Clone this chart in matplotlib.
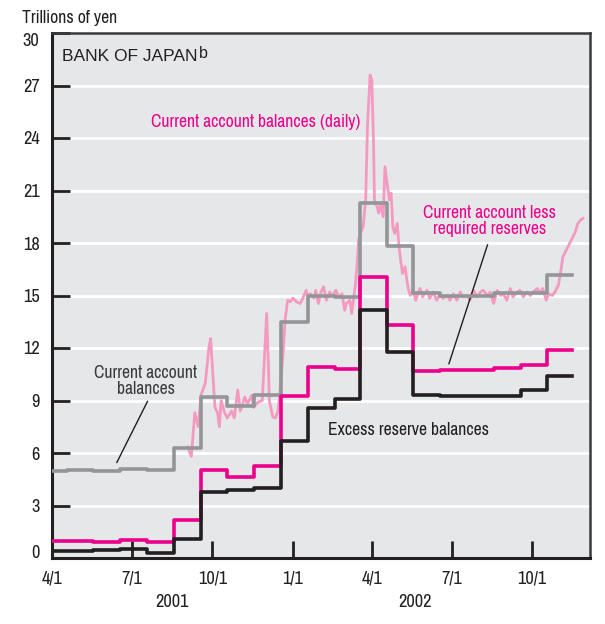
import matplotlib
matplotlib.use("Agg")
import matplotlib.pyplot as plt
from matplotlib import font_manager as fm
import pandas as pd

# Reserve maintenance period edges (monthly averages)
period_edges = ['2001-04-01', '2001-04-18', '2001-05-18', '2001-06-18', '2001-07-18',
                '2001-08-18', '2001-09-18', '2001-10-18', '2001-11-18', '2001-12-18',
                '2002-01-18', '2002-02-18', '2002-03-18', '2002-04-18', '2002-05-18',
                '2002-06-18', '2002-07-18', '2002-08-18', '2002-09-18', '2002-10-18',
                '2002-11-16']

current_account = [4.96, 5.04, 4.96, 5.1, 5.04, 6.28, 9.2, 8.7, 9.33, 13.46,
                   14.98, 14.9, 20.27, 17.84, 15.12, 14.96, 14.96, 15.12, 15.12, 16.16]
less_required = [1.0, 1.0, 0.9, 1.05, 0.93, 2.2, 5.04, 4.62, 5.25, 9.26,
                 10.9, 10.78, 16.07, 13.3, 10.67, 10.73, 10.73, 10.86, 11.05, 11.91]
excess_reserve = [0.38, 0.38, 0.46, 0.52, 0.29, 1.09, 3.8, 3.88, 4.0, 6.66,
                  8.59, 9.07, 14.2, 11.8, 9.34, 9.24, 9.24, 9.24, 9.58, 10.42]

# Daily current account balances
daily_dates = ['2001-09-03', '2001-09-07', '2001-09-11', '2001-09-15', '2001-09-18',
               '2001-09-23', '2001-09-27', '2001-09-29', '2001-10-01', '2001-10-04',
               '2001-10-07', '2001-10-09', '2001-10-11', '2001-10-15', '2001-10-18',
               '2001-10-23', '2001-10-26', '2001-10-30', '2001-11-02', '2001-11-07',
               '2001-11-10', '2001-11-15', '2001-11-17', '2001-11-22', '2001-11-27',
               '2001-11-30', '2001-12-02', '2001-12-04', '2001-12-05', '2001-12-09',
               '2001-12-12', '2001-12-15', '2001-12-17', '2001-12-21', '2001-12-23',
               '2001-12-26', '2001-12-29', '2002-01-01', '2002-01-05', '2002-01-09',
               '2002-01-11', '2002-01-16', '2002-01-18', '2002-01-21', '2002-01-25',
               '2002-01-27', '2002-01-30', '2002-02-02', '2002-02-05', '2002-02-08',
               '2002-02-12', '2002-02-15', '2002-02-19', '2002-02-22', '2002-02-26',
               '2002-03-01', '2002-03-03', '2002-03-07', '2002-03-09', '2002-03-13',
               '2002-03-15', '2002-03-17', '2002-03-19', '2002-03-22', '2002-03-25',
               '2002-03-27', '2002-03-30', '2002-04-01', '2002-04-03', '2002-04-04',
               '2002-04-07', '2002-04-09', '2002-04-11', '2002-04-14', '2002-04-16',
               '2002-04-18', '2002-04-21', '2002-04-23', '2002-04-25', '2002-04-27',
               '2002-04-30', '2002-05-02', '2002-05-04', '2002-05-06', '2002-05-09',
               '2002-05-11', '2002-05-13', '2002-05-15', '2002-05-18', '2002-05-21',
               '2002-05-26', '2002-05-29', '2002-06-03', '2002-06-06', '2002-06-10',
               '2002-06-14', '2002-06-18', '2002-06-21', '2002-06-26', '2002-06-29',
               '2002-07-03', '2002-07-07', '2002-07-11', '2002-07-14', '2002-07-19',
               '2002-07-22', '2002-07-26', '2002-07-30', '2002-08-03', '2002-08-06',
               '2002-08-11', '2002-08-14', '2002-08-18', '2002-08-22', '2002-08-26',
               '2002-08-29', '2002-09-02', '2002-09-06', '2002-09-09', '2002-09-14',
               '2002-09-17', '2002-09-21', '2002-09-25', '2002-09-29', '2002-10-02',
               '2002-10-07', '2002-10-10', '2002-10-13', '2002-10-17', '2002-10-20',
               '2002-10-24', '2002-10-27', '2002-10-31', '2002-11-03', '2002-11-05',
               '2002-11-09', '2002-11-12', '2002-11-16', '2002-11-19', '2002-11-22',
               '2002-11-25', '2002-11-28']
daily_values = [6.34, 5.8, 8.3, 7.5, 9.3,
                10.0, 12.0, 12.54, 11.0, 8.6,
                8.3, 7.5, 9.0, 8.3, 8.0,
                8.4, 8.0, 9.6, 8.4, 9.2,
                8.8, 9.3, 8.6, 8.9, 9.0,
                12.0, 13.97, 11.0, 9.0, 8.05,
                8.0, 8.4, 9.4, 11.9, 13.6,
                14.73, 14.64, 14.85, 14.64, 14.54,
                14.7, 15.3, 14.92, 15.1, 14.85,
                15.3, 14.54, 15.2, 15.5, 14.73,
                15.2, 14.97, 15.3, 14.92, 15.1,
                14.16, 14.54, 14.73, 13.97, 15.5,
                16.6, 18.2, 18.55, 18.93, 20.46,
                24.65, 27.6, 27.3, 23.7, 20.46,
                20.07, 19.7, 20.27, 19.5, 22.36,
                21.6, 20.46, 20.84, 18.93, 18.55,
                19.12, 17.8, 17.0, 16.26, 16.64,
                15.88, 15.3, 15.0, 15.3, 14.73,
                15.4, 14.92, 15.3, 14.83, 15.2,
                14.73, 15.1, 14.83, 15.02, 14.73,
                15.1, 14.73, 15.2, 14.92, 15.0,
                14.73, 15.3, 14.92, 15.2, 15.3,
                15.0, 15.2, 14.54, 15.3, 15.0,
                15.1, 14.73, 15.4, 14.92, 15.2,
                15.3, 14.92, 15.2, 15.0, 15.2,
                15.4, 15.1, 15.4, 14.73, 15.1,
                15.0, 15.2, 15.6, 16.5, 17.2,
                17.6, 17.9, 18.3, 18.6, 19.1,
                19.3, 19.41]

x_ticks = ['2001-04-01', '2001-07-01', '2001-10-01', '2002-01-01',
           '2002-04-01', '2002-07-01', '2002-10-01']
x_tick_labels = ['4/1', '7/1', '10/1', '1/1', '4/1', '7/1', '10/1']
y_ticks = [0, 3, 6, 9, 12, 15, 18, 21, 24, 27, 30]

GRAY = '#939598'
PINK = '#ec008c'
LIGHT_PINK = '#f49ac1'
DARK = '#231f20'
FS = 12.7


# pick a condensed sans font if one is installed, else fall back to Liberation Sans
def find_narrow():
    cands = []
    for f in fm.fontManager.ttflist:
        name = f.name.lower()
        fname = f.fname.lower()
        if f.style != 'normal' or f.weight not in (400, 'normal', 'regular'):
            continue
        if 'bold' in fname or 'italic' in fname or 'light' in fname or 'medium' in fname:
            continue
        if 'narrow' in name or 'narrow' in fname:
            cands.append((0, f.fname))
        elif 'condensed' in name or 'condensed' in fname or f.stretch in ('condensed', 'semi-condensed'):
            if 'extra' in fname or 'semi' in fname or 'ultra' in fname:
                continue
            cands.append((1, f.fname))
    if cands:
        cands.sort()
        return fm.FontProperties(fname=cands[0][1])
    return fm.FontProperties(family='Liberation Sans')


narrow = find_narrow()
plt.rcParams['font.family'] = ['Liberation Sans', 'DejaVu Sans']

edges = pd.to_datetime(period_edges)
daily_x = pd.to_datetime(daily_dates)

fig = plt.figure(figsize=(6.05, 6.24), dpi=100)
ax = fig.add_axes([52 / 605, 1 - 558 / 624, 538 / 605, 525 / 624])
ax.set_facecolor('#e6e7e8')

# Grid lines
for yv in y_ticks[1:-1]:
    ax.axhline(yv, color='white', lw=2, zorder=1)

# Daily balances
ax.plot(daily_x, daily_values, color=LIGHT_PINK, lw=2.0, zorder=2)

# Monthly step series
ax.step(edges, current_account + current_account[-1:], where='post', color=GRAY, lw=2.6, zorder=3)
ax.step(edges, less_required + less_required[-1:], where='post', color=PINK, lw=2.6, zorder=3)
ax.step(edges, excess_reserve + excess_reserve[-1:], where='post', color=DARK, lw=2.6, zorder=4)

ax.set_xlim(pd.Timestamp('2001-04-01'), pd.Timestamp('2002-12-06'))
ax.set_ylim(0, 30)

ax.set_xticks(pd.to_datetime(x_ticks))
ax.set_xticklabels(x_tick_labels)
ax.set_yticks(y_ticks)
ax.tick_params(axis='x', direction='in', length=12, width=2, color=DARK,
               labelcolor=DARK, pad=9, top=False)
ax.tick_params(axis='y', direction='in', length=13, width=2, color=DARK,
               labelcolor=DARK, pad=9, right=False)
for lab in ax.get_xticklabels() + ax.get_yticklabels():
    lab.set_fontproperties(narrow)
    lab.set_fontsize(FS + 0.5)
ylabels = ax.get_yticklabels()
ylabels[-1].set_verticalalignment('top')
ylabels[0].set_verticalalignment('baseline')

for side in ['left', 'bottom']:
    ax.spines[side].set_linewidth(2.2)
    ax.spines[side].set_color(DARK)
for side in ['top', 'right']:
    ax.spines[side].set_linewidth(1.8)
    ax.spines[side].set_color('#3a3a3a')

# Labels
fig.text(22 / 605, 1 - 18 / 624, 'Trillions of yen', fontproperties=narrow, fontsize=FS,
         color=DARK, ha='left', va='center')
boj = ax.text(0.018, 0.955, 'BANK OF JAPAN', transform=ax.transAxes,
              fontsize=12.5, color=DARK, ha='left', va='center')
ax.annotate('b', xy=(1, 1), xycoords=boj, xytext=(1, 2), textcoords='offset points',
            fontsize=11.5, color=DARK, ha='left', va='top')
ax.text(pd.Timestamp('2001-11-20'), 24.9, 'Current account balances (daily)',
        fontproperties=narrow, fontsize=FS, color=PINK, ha='center', va='center')
ax.text(pd.Timestamp('2002-08-13'), 19.25, 'Current account less\nrequired reserves',
        fontproperties=narrow, fontsize=FS, color=PINK, ha='center', va='center',
        linespacing=1.0)
ax.text(pd.Timestamp('2001-07-17'), 10.1, 'Current account\nbalances',
        fontproperties=narrow, fontsize=FS, color='#3a3a3a', ha='center', va='center',
        linespacing=1.0)
ax.text(pd.Timestamp('2002-02-10'), 7.3, 'Excess reserve balances',
        fontproperties=narrow, fontsize=FS, color=DARK, ha='left', va='center')

# Leader lines
ax.plot(pd.to_datetime(['2001-07-19', '2001-06-14']), [8.95, 5.46], color=DARK, lw=1)
ax.plot(pd.to_datetime(['2002-08-11', '2002-06-28']), [17.89, 11.1], color=DARK, lw=1)

# Years
ax.text(pd.Timestamp('2001-08-16'), -2.5, '2001', fontproperties=narrow, fontsize=FS + 0.5,
        color=DARK, ha='center', va='center')
ax.text(pd.Timestamp('2002-05-20'), -2.5, '2002', fontproperties=narrow, fontsize=FS + 0.5,
        color=DARK, ha='center', va='center')

fig.savefig('out.png', dpi=100)
